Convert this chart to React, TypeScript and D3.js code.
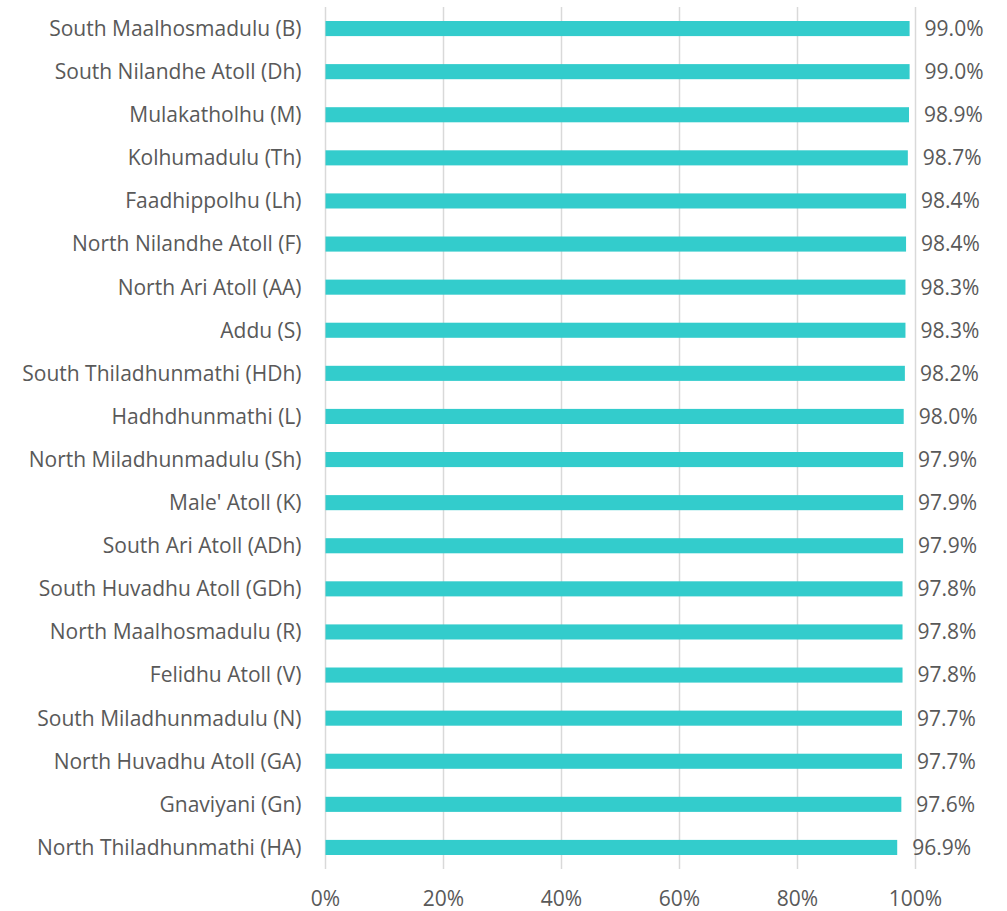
import React from "react";
import * as d3 from "d3";

const categories = [
  "South Maalhosmadulu (B)",
  "South Nilandhe Atoll (Dh)",
  "Mulakatholhu (M)",
  "Kolhumadulu (Th)",
  "Faadhippolhu (Lh)",
  "North Nilandhe Atoll (F)",
  "North Ari Atoll (AA)",
  "Addu (S)",
  "South Thiladhunmathi (HDh)",
  "Hadhdhunmathi (L)",
  "North Miladhunmadulu (Sh)",
  "Male' Atoll (K)",
  "South Ari Atoll (ADh)",
  "South Huvadhu Atoll (GDh)",
  "North Maalhosmadulu (R)",
  "Felidhu Atoll (V)",
  "South Miladhunmadulu (N)",
  "North Huvadhu Atoll (GA)",
  "Gnaviyani (Gn)",
  "North Thiladhunmathi (HA)",
];
const values = [
  99.0, 99.0, 98.9, 98.7, 98.4, 98.4, 98.3, 98.3, 98.2, 98.0, 97.9, 97.9, 97.9,
  97.8, 97.8, 97.8, 97.7, 97.7, 97.6, 96.9,
];
const xTicks = [0, 20, 40, 60, 80, 100];

const W = 1007;
const H = 911;
const left = 325.5;
const right = 915.5;
const top = 7;
const bottom = 869;
const FONT = "'Open Sans', sans-serif";
const TEXT = "#595959";
const FS = 21;

export default function App() {
  const x = d3.scaleLinear().domain([0, 100]).range([left, right]);
  const y = d3
    .scaleBand<string>()
    .domain(categories)
    .range([top, bottom])
    .paddingInner(0.65)
    .paddingOuter(0.325);
  return (
    <svg
      width={W}
      height={H}
      style={{ position: "absolute", left: 0, top: 0, background: "#fff" }}
    >
      {xTicks.map((t) => (
        <line
          key={t}
          x1={x(t)}
          x2={x(t)}
          y1={top}
          y2={bottom}
          stroke="#d9d9d9"
          strokeWidth={1.5}
        />
      ))}
      {categories.map((c, i) => (
        <g key={c}>
          <rect
            x={x(0)}
            y={y(c)!}
            width={x(values[i]) - x(0)}
            height={y.bandwidth()}
            fill="#33CCCC"
          />
          <text
            x={left - 24}
            y={y(c)! + y.bandwidth() / 2}
            dy="0.35em"
            textAnchor="end"
            fontFamily={FONT}
            fontSize={FS}
            fill={TEXT}
          >
            {c}
          </text>
          <text
            x={x(values[i]) + 15}
            y={y(c)! + y.bandwidth() / 2}
            dy="0.35em"
            textAnchor="start"
            fontFamily={FONT}
            fontSize={FS}
            fill={TEXT}
          >
            {values[i].toFixed(1) + "%"}
          </text>
        </g>
      ))}
      {xTicks.map((t) => (
        <text
          key={"l" + t}
          x={x(t)}
          y={906}
          textAnchor="middle"
          fontFamily={FONT}
          fontSize={FS}
          fill={TEXT}
        >
          {t + "%"}
        </text>
      ))}
    </svg>
  );
}
